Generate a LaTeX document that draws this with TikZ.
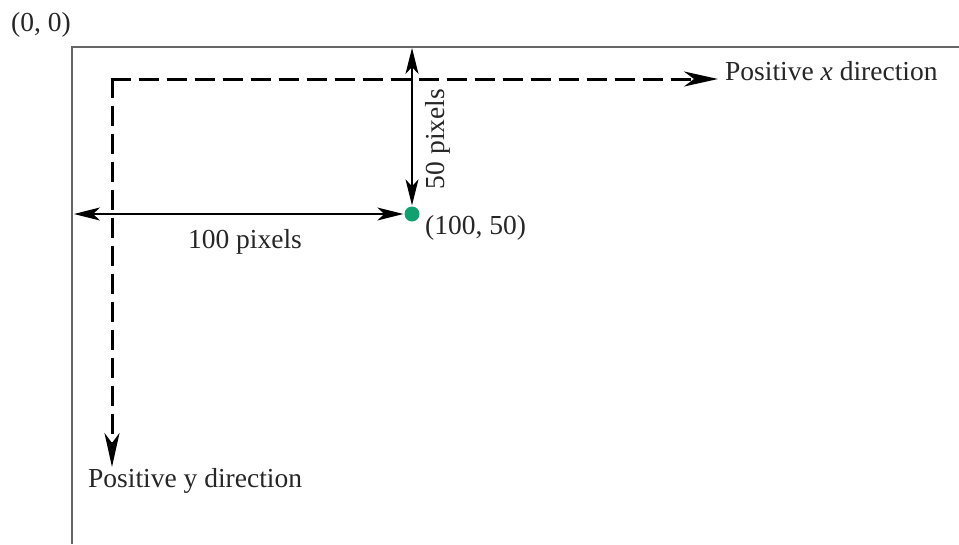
\documentclass[tikz,border=0pt]{standalone}
\usepackage{fontspec}
\setmainfont{Liberation Serif}
\usetikzlibrary{arrows.meta}
\definecolor{dotgreen}{RGB}{18,160,112}
\begin{document}
\begin{tikzpicture}[x=1pt,y=-1pt,
  lbl/.style={inner sep=0pt, font=\fontsize{27.5}{30}\selectfont, text=black!85},
  frame/.style={draw=black!60, line width=2pt},
  axis/.style={line width=3pt, dash pattern=on 20pt off 8pt,
    -{Stealth[length=34pt,width=15pt,inset=10pt]}},
  dim/.style={line width=1.2pt,
    {Stealth[length=26pt,width=13pt,inset=7pt]}-{Stealth[length=26pt,width=13pt,inset=7pt]}},
]
\useasboundingbox (0,0) rectangle (959,544);

% window frame: top and left edges
\coordinate (tr) at (959,47);
\coordinate (org) at (72,47);
\coordinate (bl) at (72,544);
\draw[frame] (tr) -- (org) -- (bl);

% dashed coordinate axes
\coordinate (corner) at (112,79);
\coordinate (xend) at (718,79);
\coordinate (yend) at (112,467);
\draw[axis] ([xshift=-1.5pt]corner) -- (xend);
\draw[axis] ([yshift=1.5pt]corner) -- (yend);

% the point (100, 50)
\node[circle, fill=dotgreen, inner sep=0pt, minimum size=15pt] (pt) at (412,214) {};

% dimension arrows
\coordinate (topedge) at (412,48);
\coordinate (leftedge) at (74,214);
\draw[dim, shorten >=1pt] (topedge) -- (pt.north);
\draw[dim, shorten >=1pt] (leftedge) -- (pt.west);

% labels
\node[lbl, anchor=base west] (olbl) at (11,31) {(0, 0)};
\node[lbl, anchor=base west] (xlbl) at (725,80) {Positive \textit{x} direction};
\node[lbl, anchor=base west] (ylbl) at (88,487) {Positive y direction};
\node[lbl, anchor=base] (hlbl) at (245,248) {100 pixels};
\node[lbl, rotate=90] (vlbl) at (438,139) {50 pixels};
\node[lbl, anchor=base west] (plbl) at (425,234) {(100, 50)};
\end{tikzpicture}
\end{document}
